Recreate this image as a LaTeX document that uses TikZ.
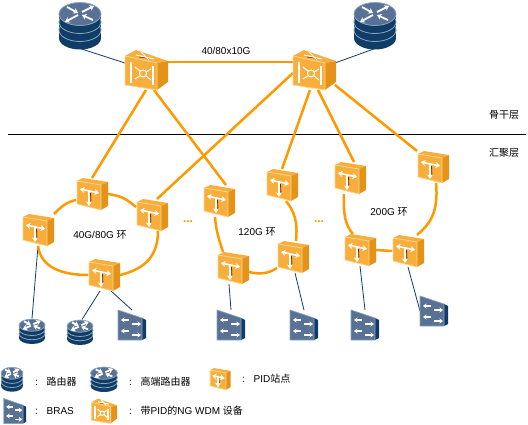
\documentclass[tikz,border=0pt]{standalone}
\usepackage{fontspec}
\setmainfont{Liberation Sans}
\newfontfamily\cjk{Noto Sans CJK SC}
\usetikzlibrary{
  arrows.meta,
  calc
}
\definecolor{ringcolor}{RGB}{255, 153, 0}
\definecolor{accesscolor}{RGB}{15, 61, 104}
\definecolor{pidfront}{RGB}{248, 174, 60}
\definecolor{pidside}{RGB}{228, 146, 24}
\definecolor{pidedge}{RGB}{255, 214, 140}
\definecolor{arrowshade}{RGB}{120, 40, 0}
\definecolor{routertop}{RGB}{88, 113, 148}
\definecolor{routeredge}{RGB}{140, 165, 190}
\tikzset{
ringlink/.style={
  draw=ringcolor,
  line width=2.5pt
},
accesslink/.style={
  draw=accesscolor,
  line width=0.8pt
},
devbox/.style={
  inner sep=0pt,
  outer sep=0pt
},
pidbox/.style={
  devbox,
  minimum width=32pt,
  minimum height=32pt
},
ngbox/.style={
  devbox,
  minimum width=42pt,
  minimum height=40pt
},
routerbox/.style={
  devbox,
  minimum width=42pt,
  minimum height=47pt
},
smallrouterbox/.style={
  devbox,
  minimum width=26pt,
  minimum height=25pt
},
brasbox/.style={
  devbox,
  minimum width=28pt,
  minimum height=30pt
},
textlabel/.style={
  font=\fontsize{10}{12}\selectfont,
  inner sep=0pt
},
iconarrow/.style={
  draw=white,
  line width=1.4pt,
  -{Stealth[length=3.5pt,width=5pt]}
},
iconarrowboth/.style={
  draw=white,
  line width=1.6pt,
  {Stealth[length=4.5pt,width=6pt]}-{Stealth[length=4.5pt,width=6pt]}
},
routerarrow/.style={
  draw=white,
  line width=1.8pt,
  -{Stealth[length=4.5pt,width=6pt]}
},
pidicon/.pic={
  \fill[pidfront] (-15,-13) -- (-9,-16) -- (16,-12) -- (9,-9) -- cycle;
  \fill[pidside] (9,-9) -- (16,-12) -- (16,12) -- (9,16) -- cycle;
  \filldraw[fill=pidfront, draw=pidedge, line width=0.8pt]
    (-15,-13) -- (9,-9) -- (9,16) -- (-15,10) -- cycle;
  \draw[arrowshade, line width=0.8pt] (-1.5,-1) -- (-1,9);
  \draw[routerarrow] (-3,-3) -- (-3,12);
  \draw[iconarrowboth] (-12,-5) -- (7,-1);
},
brasicon/.pic={
  \fill[accesscolor] (10,-7) -- (14,-5) -- (14,13) -- (10,15) -- cycle;
  \filldraw[fill=routertop, draw=routeredge, line width=0.7pt]
    (-14,-15) -- (10,-7) -- (10,15) -- (-14,15) -- cycle;
  \draw[iconarrow] (-3,-5) -- (-11,-5);
  \draw[iconarrow] (0,-1) -- (9,-1);
  \draw[iconarrow] (-3,6) -- (-11,6);
  \draw[iconarrow] (0,10) -- (9,10);
},
routericon/.pic={
  \fill[accesscolor] (0,13) ellipse [x radius=21pt, y radius=11.5pt];
  \fill[accesscolor] (-21,-11) rectangle (21,13);
  \foreach \ly in {5,-3} {
    \filldraw[fill=accesscolor, draw=routeredge, line width=0.8pt]
      (0,\ly) ellipse [x radius=21pt, y radius=11.5pt];
  }
  \filldraw[fill=routertop, draw=routeredge, line width=0.8pt]
    (0,-11) ellipse [x radius=21pt, y radius=11.5pt];
  \draw[routerarrow] (-13,-18) -- (-2,-12);
  \draw[routerarrow] (13,-5) -- (2,-10);
  \draw[routerarrow] (2,-13) -- (14,-19);
  \draw[routerarrow] (-2,-10) -- (-15,-3);
},
ngicon/.pic={
  \fill[pidfront] (-21,-14) -- (-10,-20) -- (22,-9) -- (11,-7) -- cycle;
  \fill[pidside] (11,-7) -- (22,-9) -- (22,12) -- (11,20) -- cycle;
  \filldraw[fill=pidfront, draw=pidedge, line width=0.8pt]
    (-21,-14) -- (11,-7) -- (11,20) -- (-21,15) -- cycle;
  \draw[arrowshade, line width=0.8pt] (-7,-13) -- (3,-12);
  \draw[white, line width=1pt] (-10,-15) -- (8,-11);
  \draw[white, line width=1pt] (-5,-18) -- (3,-10);
  \draw[white, line width=1.8pt] (-15,-8) -- (-15,13);
  \draw[white, line width=1.8pt] (7,-4) -- (7,15);
  \draw[white, line width=1pt] (-11,-3) -- (5,10);
  \draw[white, line width=1pt] (-11,9) -- (5,-1);
  \filldraw[fill=pidfront, draw=white, line width=1pt] (-3,3.5) circle (3.5pt);
}
}
\begin{document}
\begin{tikzpicture}[x=1pt, y=-1pt]
  \useasboundingbox (0,0) rectangle (528,425);

  % Backbone
  \node[routerbox] (coreleft) at (80,25) {};
  \node[routerbox] (coreright) at (375,25) {};
  \node[ngbox] (ngleft) at (146,70) {};
  \node[ngbox] (ngright) at (314,70) {};

  % Rings
  \node[pidbox] (ringa) at (92,194) {};
  \node[pidbox] (ringb) at (152,215) {};
  \node[pidbox] (ringc) at (38,230) {};
  \node[pidbox] (ringd) at (104,275) {};
  \node[pidbox] (ringe) at (219,201) {};
  \node[pidbox] (ringf) at (233,268) {};
  \node[pidbox] (ringg) at (293,257) {};
  \node[pidbox] (ringh) at (282,185) {};
  \node[pidbox] (ringi) at (350,178) {};
  \node[pidbox] (ringj) at (433,167) {};
  \node[pidbox] (ringk) at (360,250) {};
  \node[pidbox] (ringl) at (408,251) {};

  % Access devices
  \node[smallrouterbox] (routera) at (32,331) {};
  \node[smallrouterbox] (routerb) at (80,332) {};
  \node[brasbox] (brasa) at (132,325) {};
  \node[brasbox] (brasb) at (231,325) {};
  \node[brasbox] (brasc) at (304,325) {};
  \node[brasbox] (brasd) at (365,325) {};
  \node[brasbox] (brase) at (434,311) {};

  % Legend
  \node[smallrouterbox] (keyrouter) at (12,379) {};
  \node[smallrouterbox] (keycore) at (104,379) {};
  \node[devbox, minimum width=21pt, minimum height=22pt] (keypid) at (220,379) {};
  \node[devbox, minimum width=22pt, minimum height=25pt] (keybras) at (15,411) {};
  \node[devbox, minimum width=25pt, minimum height=25pt] (keyng) at (104,411) {};

  \coordinate (layerleft) at (8,134);
  \coordinate (layerright) at (526,134);
  \draw[black, line width=0.8pt] (layerleft) -- (layerright);

  \draw[accesslink] (coreleft.south) -- ([yshift=7pt]ngleft.west);
  \draw[accesslink] (coreright.south) -- ([yshift=7pt]ngright.east);
  \draw[accesslink] (ringc.south) -- (routera.north);
  \draw[accesslink] ([xshift=-4pt]ringd.south) -- ([xshift=2pt]routerb.north);
  \draw[accesslink] ([xshift=7pt]ringd.south) -- (brasa.north);
  \draw[accesslink] ([xshift=-4pt]ringf.south) -- (brasb.north);
  \draw[accesslink] ([xshift=2pt]ringg.south) -- (brasc.north);
  \draw[accesslink] (ringk.south) -- (brasd.north);
  \draw[accesslink] (ringl.south) -- (brase.west);

  \draw[ringlink] ([yshift=8pt]ngleft.east) -- ([yshift=8pt]ngright.west);
  \draw[ringlink] (ngleft.south) -- (ringa.north);
  \draw[ringlink] ([xshift=8pt]ngleft.south) -- ([xshift=7pt]ringe.north);
  \draw[ringlink] ([yshift=-3pt]ngright.west) -- ([xshift=5pt]ringb.north);
  \draw[ringlink] ([xshift=-4pt]ngright.south) -- (ringh.north);
  \draw[ringlink] ([xshift=4pt]ngright.south) -- ([xshift=4pt]ringi.north);
  \draw[ringlink] ([yshift=5pt]ngright.south east) -- (ringj.north west);

  \draw[ringlink] (ringa.east) .. controls +(12,2) and +(-12,-10) .. ([yshift=8pt]ringb.west);
  \draw[ringlink] (ringc.north east) .. controls +(6,-6) and +(-10,2) .. ([yshift=-6pt]ringa.west);
  \draw[ringlink] (ringc.south) .. controls +(3,22) and +(-25,0) .. (ringd.west);
  \draw[ringlink] (ringd.east) .. controls +(25,-6) and +(0,25) .. ([xshift=6pt]ringb.south);
  \draw[ringlink] ([xshift=-4pt]ringe.south) .. controls +(1,15) and +(-3,-10) .. ([xshift=-10pt]ringf.north);
  \draw[ringlink] ([yshift=-4pt]ringf.east) .. controls +(12,3) and +(-8,5) .. ([yshift=-11pt]ringg.west);
  \draw[ringlink] ([xshift=4pt]ringh.south) .. controls +(8,10) and +(2,-20) .. ([xshift=3pt]ringg.north);
  \draw[ringlink] ([xshift=-6pt]ringi.south) .. controls +(-1,22) and +(-7,-8) .. ([xshift=-7pt]ringk.north);
  \draw[ringlink] ([xshift=3pt]ringj.south) .. controls +(3,30) and +(12,-10) .. ([xshift=9pt]ringl.north);
  \draw[ringlink] (ringk.east) -- (ringl.west);

  \pic at (coreleft) {routericon};
  \pic at (coreright) {routericon};
  \pic at (ngleft) {ngicon};
  \pic at (ngright) {ngicon};
  \foreach \pidname in {ringa,ringb,ringc,ringd,ringe,ringf,ringg,ringh,ringi,ringj,ringk,ringl} {
    \pic at (\pidname) {pidicon};
  }
  \foreach \routername in {routera,routerb} {
    \pic[xscale=.62, yscale=.53] at (\routername) {routericon};
  }
  \foreach \brasname in {brasa,brasb,brasc,brasd,brase} {
    \pic at (\brasname) {brasicon};
  }
  \pic[xscale=.52, yscale=.52] at (keyrouter) {routericon};
  \pic[xscale=.64, yscale=.53] at (keycore) {routericon};
  \pic[xscale=.66, yscale=.68] at (keypid) {pidicon};
  \pic[xscale=.8, yscale=.83] at (keybras) {brasicon};
  \pic[xscale=.6, yscale=.62] at (keyng) {ngicon};

  % Labels
  \node[textlabel] (speedlabel) at (226,51) {40/80x10G};
  \node[textlabel] (corelabel) at (504,115) {\cjk 骨干层};
  \node[textlabel] (edgelabel) at (504,153) {\cjk 汇聚层};
  \node[textlabel] (ringalabel) at (100,235) {40G/80G {\cjk 环}};
  \node[textlabel] (ringblabel) at (257,232) {120G {\cjk 环}};
  \node[textlabel] (ringclabel) at (389,212) {200G {\cjk 环}};
  \node[textlabel, text=ringcolor, font=\bfseries\fontsize{12}{12}\selectfont] (dotsa) at (188,222) {...};
  \node[textlabel, text=ringcolor, font=\bfseries\fontsize{12}{12}\selectfont] (dotsb) at (319,222) {...};

  \node[textlabel, anchor=west] (keyroutertext) at (35,382) {: \hspace{5pt}{\cjk 路由器}};
  \node[textlabel, anchor=west] (keycoretext) at (129,382) {: \hspace{5pt}{\cjk 高端路由器}};
  \node[textlabel, anchor=west] (keypidtext) at (242,379) {: \hspace{5pt}PID{\cjk 站点}};
  \node[textlabel, anchor=west] (keybrastext) at (35,411) {: \hspace{5pt}BRAS};
  \node[textlabel, anchor=west] (keyngtext) at (129,411) {: \hspace{5pt}{\cjk 带}PID{\cjk 的}NG WDM {\cjk 设备}};
\end{tikzpicture}
\end{document}
